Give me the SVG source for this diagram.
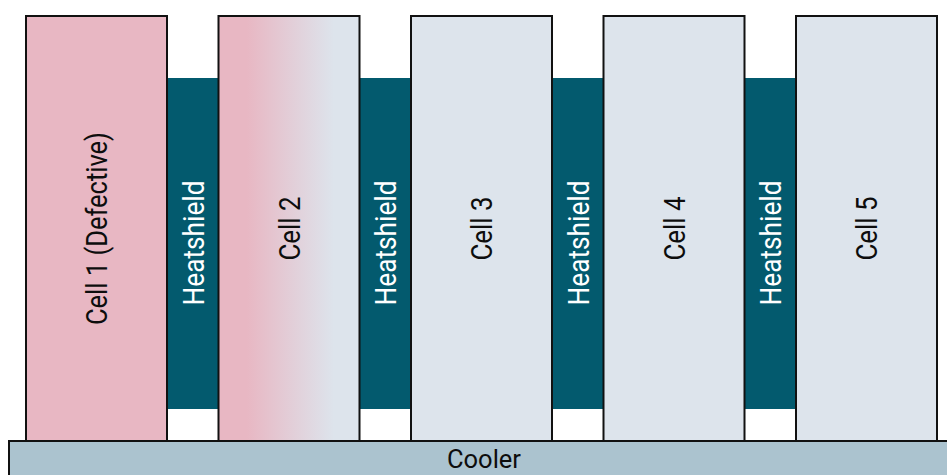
<svg xmlns="http://www.w3.org/2000/svg" width="947" height="475" viewBox="0 0 947 475">
  <defs>
    <linearGradient id="cellWarm" x1="0" y1="0" x2="1" y2="0">
      <stop offset="0.2" stop-color="#e8b7c3"/>
      <stop offset="0.82" stop-color="#dde4ec"/>
    </linearGradient>
    <style>
      .cell { stroke: #111; stroke-width: 2; }
      .hot { fill: #e8b7c3; }
      .cool { fill: #dde4ec; }
      .shield { fill: #035a6e; }
      .cooler { fill: #abc3cf; stroke: #111; stroke-width: 2; }
      .lbl { font-family: Roboto, "Liberation Sans", sans-serif; font-size: 29px; text-anchor: middle; fill: #0d0d0d; }
      .lbl-w { fill: #ffffff; }
      .lbl-s { font-size: 26px; }
    </style>
  </defs>

  <rect width="947" height="475" fill="#ffffff"/>

  <!-- cooler plate -->
  <g id="cooler">
    <rect class="cooler" x="9" y="441" width="950" height="40"/>
    <text class="lbl lbl-s" x="484" y="468" textLength="74" lengthAdjust="spacingAndGlyphs">Cooler</text>
  </g>

  <!-- heat shields between cells -->
  <g id="heatshield1">
    <rect class="shield" x="167" y="78" width="52" height="331"/>
    <text class="lbl lbl-w" transform="translate(193,243) rotate(-90)" y="10.5" textLength="125" lengthAdjust="spacingAndGlyphs">Heatshield</text>
  </g>
  <g id="heatshield2">
    <rect class="shield" x="359.5" y="78" width="52" height="331"/>
    <text class="lbl lbl-w" transform="translate(385.5,243) rotate(-90)" y="10.5" textLength="125" lengthAdjust="spacingAndGlyphs">Heatshield</text>
  </g>
  <g id="heatshield3">
    <rect class="shield" x="552" y="78" width="52" height="331"/>
    <text class="lbl lbl-w" transform="translate(578,243) rotate(-90)" y="10.5" textLength="125" lengthAdjust="spacingAndGlyphs">Heatshield</text>
  </g>
  <g id="heatshield4">
    <rect class="shield" x="744.5" y="78" width="52" height="331"/>
    <text class="lbl lbl-w" transform="translate(770.5,243) rotate(-90)" y="10.5" textLength="125" lengthAdjust="spacingAndGlyphs">Heatshield</text>
  </g>

  <!-- battery cells -->
  <g id="cell1">
    <rect class="cell hot" x="26" y="16" width="141" height="425"/>
    <text class="lbl" transform="translate(96.5,228.5) rotate(-90)" y="10.5" textLength="193" lengthAdjust="spacingAndGlyphs">Cell 1 (Defective)</text>
  </g>
  <g id="cell2">
    <rect class="cell" fill="url(#cellWarm)" x="218.5" y="16" width="141" height="425"/>
    <text class="lbl" transform="translate(289,228.5) rotate(-90)" y="10.5" textLength="64" lengthAdjust="spacingAndGlyphs">Cell 2</text>
  </g>
  <g id="cell3">
    <rect class="cell cool" x="411" y="16" width="141" height="425"/>
    <text class="lbl" transform="translate(481.5,228.5) rotate(-90)" y="10.5" textLength="64" lengthAdjust="spacingAndGlyphs">Cell 3</text>
  </g>
  <g id="cell4">
    <rect class="cell cool" x="603.5" y="16" width="141" height="425"/>
    <text class="lbl" transform="translate(674,228.5) rotate(-90)" y="10.5" textLength="64" lengthAdjust="spacingAndGlyphs">Cell 4</text>
  </g>
  <g id="cell5">
    <rect class="cell cool" x="796" y="16" width="141" height="425"/>
    <text class="lbl" transform="translate(866.5,228.5) rotate(-90)" y="10.5" textLength="64" lengthAdjust="spacingAndGlyphs">Cell 5</text>
  </g>

  <!-- connectors: none in this layout -->
  <g id="connectors"/>
</svg>
